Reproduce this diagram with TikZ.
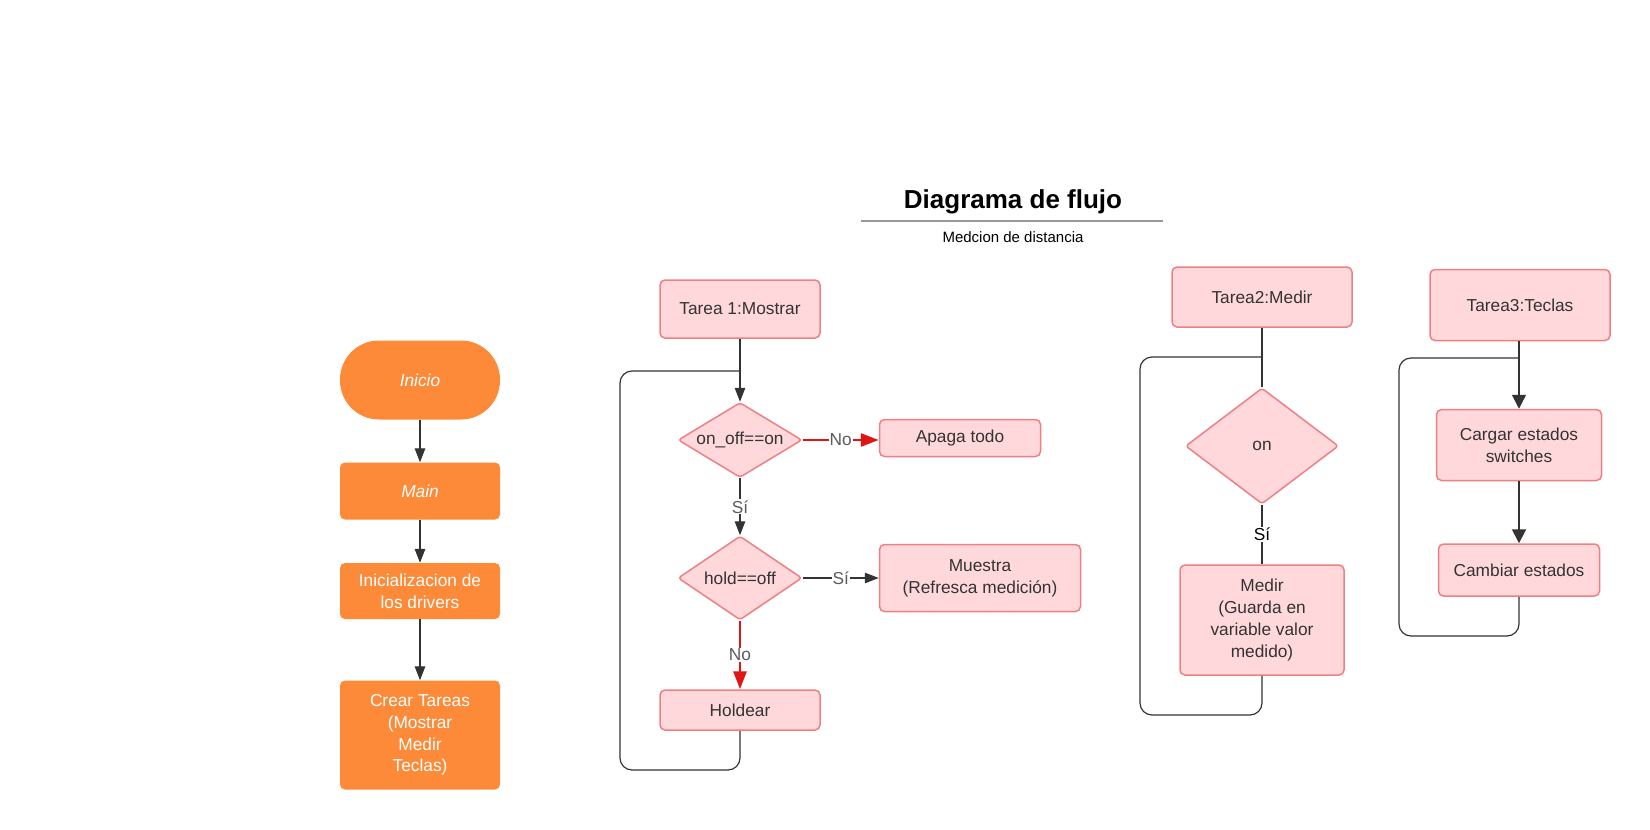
\documentclass[tikz,border=0pt]{standalone}
\usepackage{fontspec}
\setmainfont{Liberation Sans}
\usetikzlibrary{shapes.geometric,arrows.meta}
\definecolor{naranja}{RGB}{252,138,56}
\definecolor{rosa}{RGB}{255,216,219}
\definecolor{borde}{RGB}{238,128,130}
\definecolor{rojo}{RGB}{222,22,22}
\definecolor{texto}{RGB}{51,51,51}

\begin{document}
\begin{tikzpicture}[x=1pt,y=-1pt,
    font=\fontsize{17.3}{21.7}\selectfont,
    naranjo/.style={rectangle, rounded corners=5pt, fill=naranja, text=white, align=center, minimum width=160pt, inner sep=0pt},
    caja/.style={rectangle, rounded corners=5pt, draw=borde, line width=1.5pt, fill=rosa, text=texto, align=center, inner sep=0pt},
    rombo/.style={diamond, rounded corners=3pt, draw=borde, line width=1.5pt, fill=rosa, text=texto, inner sep=0pt, aspect=1.6},
    linea/.style={texto, line width=1.3pt},
    flecha/.style={linea, -{Triangle[length=14pt,width=10.5pt]}},
    flechagrande/.style={linea, -{Triangle[length=14pt,width=14pt]}},
    flecharoja/.style={rojo, line width=2.8pt, -{Triangle[length=18pt,width=13pt]}},
    lazo/.style={texto, line width=1.2pt, rounded corners=12pt},
    etiq/.style={fill=white, inner sep=1pt, text=texto!80},
]

\useasboundingbox (0,0) rectangle (1650,830);

\node[font=\bfseries\fontsize{26}{30}\selectfont] (titulo) at (1013,202) {Diagrama de flujo};
\draw[gray!80, line width=1.5pt] (861,221) -- (1163,221);
\node[font=\fontsize{15}{18}\selectfont] (sub) at (1013,237) {Medcion de distancia};

\node[naranjo, rounded corners=39pt, minimum height=79pt] (inicio) at (420,380) {\itshape Inicio};
\node[naranjo, minimum height=57pt] (main) at (420,491) {\itshape Main};
\node[naranjo, minimum height=56pt] (drivers) at (420,591) {Inicializacion de\\los drivers};
\node[naranjo, minimum height=109pt] (crear) at (420,735) {Crear Tareas\\(Mostrar\\Medir\\Teclas)};

\draw[flecha] (inicio) -- (main);
\draw[flecha] (main) -- (drivers);
\draw[flecha] (drivers) -- (crear);

\node[caja, minimum width=160pt, minimum height=58pt] (t1) at (740,309) {Tarea 1:Mostrar};
\node[rombo, minimum width=124pt, minimum height=75pt] (onoff) at (740,440) {on\_off==on};
\node[caja, minimum width=161pt, minimum height=37pt] (apaga) at (960,438) {Apaga todo};
\node[rombo, minimum width=124pt, minimum height=84pt] (hold) at (740,578) {hold==off};
\node[caja, minimum width=201pt, minimum height=67pt] (muestra) at (980,578) {Muestra\\(Refresca medición)};
\node[caja, minimum width=160pt, minimum height=40pt] (holdear) at (740,710) {Holdear};

\coordinate (j1) at (740,371);
\coordinate (l1) at (620,770);
\draw[flecha] (t1) -- (onoff);
\draw[flecharoja] (onoff.east) -- node[etiq] {No} (onoff.east -| apaga.west);
\draw[flecha] (onoff) -- node[etiq] {Sí} (hold);
\draw[flecha] (hold) -- node[etiq] {Sí} (muestra);
\draw[flecharoja] (hold) -- node[etiq] {No} (holdear);
\draw[lazo] (holdear.south) |- (l1) |- (j1);

\node[caja, minimum width=180pt, minimum height=60pt] (t2) at (1262,297) {Tarea2:Medir};
\node[rombo, minimum width=153pt, minimum height=116pt] (on) at (1262,446) {on};
\node[caja, minimum width=164pt, minimum height=110pt] (medir) at (1262,620) {Medir\\(Guarda en\\variable valor\\medido)};

\coordinate (j2) at (1262,357);
\coordinate (l2) at (1140,715);
\draw[linea] (t2) -- (on);
\draw[linea] (on) -- node[etiq, text=black] {Sí} (medir);
\draw[lazo] (medir.south) |- (l2) |- (j2);

\node[caja, minimum width=180pt, minimum height=71pt] (t3) at (1520,305) {Tarea3:Teclas};
\node[caja, minimum width=165pt, minimum height=71pt] (cargar) at (1519,445) {Cargar estados\\switches};
\node[caja, minimum width=161pt, minimum height=52pt] (cambiar) at (1519,570) {Cambiar estados};

\coordinate (j3) at (1519,358);
\coordinate (l3) at (1399,636);
\draw[flechagrande] (t3.south -| cargar) -- (cargar);
\draw[flechagrande, line width=2pt] (cargar) -- (cambiar);
\draw[lazo] (cambiar.south) |- (l3) |- (j3);

\end{tikzpicture}
\end{document}
